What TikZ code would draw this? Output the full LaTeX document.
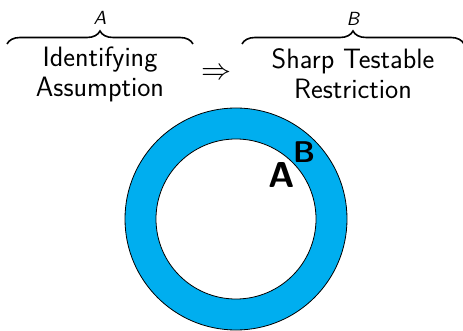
\RequirePackage{fix-cm}
\documentclass[tikz,border=0pt]{standalone}
\usepackage{amsmath}
\usepackage{graphicx}
\usepackage{tikz}
\usetikzlibrary{decorations.pathreplacing,positioning}
\definecolor{ringblue}{RGB}{0,174,239}
\newcommand{\bracetag}[1]{\scalebox{1.9}{\sffamily\slshape #1}}

\begin{document}
\begin{tikzpicture}[x=1pt,y=-1pt,
	term/.style={align=center,inner sep=0pt,font=\sffamily\fontsize{28}{30}\selectfont},
	brc/.style={decorate,decoration={brace,amplitude=13pt},line width=1.6pt},
	tag/.style={inner sep=0pt},
	set/.style={inner sep=0pt,font=\sffamily\bfseries}]
\useasboundingbox (0,0) rectangle (463,331);
% ring
\draw[fill=ringblue,line width=0.8pt] (236,219) circle[radius=111pt];
\draw[fill=white,line width=0.8pt] (236,219) circle[radius=80pt];
\node[set,font=\sffamily\bfseries\fontsize{36}{40}\selectfont] (setA) at (282,175) {A};
\node[set,font=\sffamily\bfseries\fontsize{30}{34}\selectfont] (setB) at (304,152) {B};
% terms
\node[term] (assume) at (100,74) {Identifying\\Assumption};
\node[term] (restrict) at (353,74) {Sharp Testable\\Restriction};
\node[inner sep=0pt,font=\fontsize{30}{32}\selectfont] (implies) at (216.5,74) {$\Rightarrow$};
\coordinate (braceAl) at (7,44);
\coordinate (braceAr) at (193,44);
\coordinate (braceBl) at (242,44);
\coordinate (braceBr) at (464,44);
\draw[brc] (braceAl) -- (braceAr);
\draw[brc] (braceBl) -- (braceBr);
\node[tag] (tagA) at (100,18) {\bracetag{A}};
\node[tag] (tagB) at (353,18.5) {\bracetag{B}};
\end{tikzpicture}
\end{document}
